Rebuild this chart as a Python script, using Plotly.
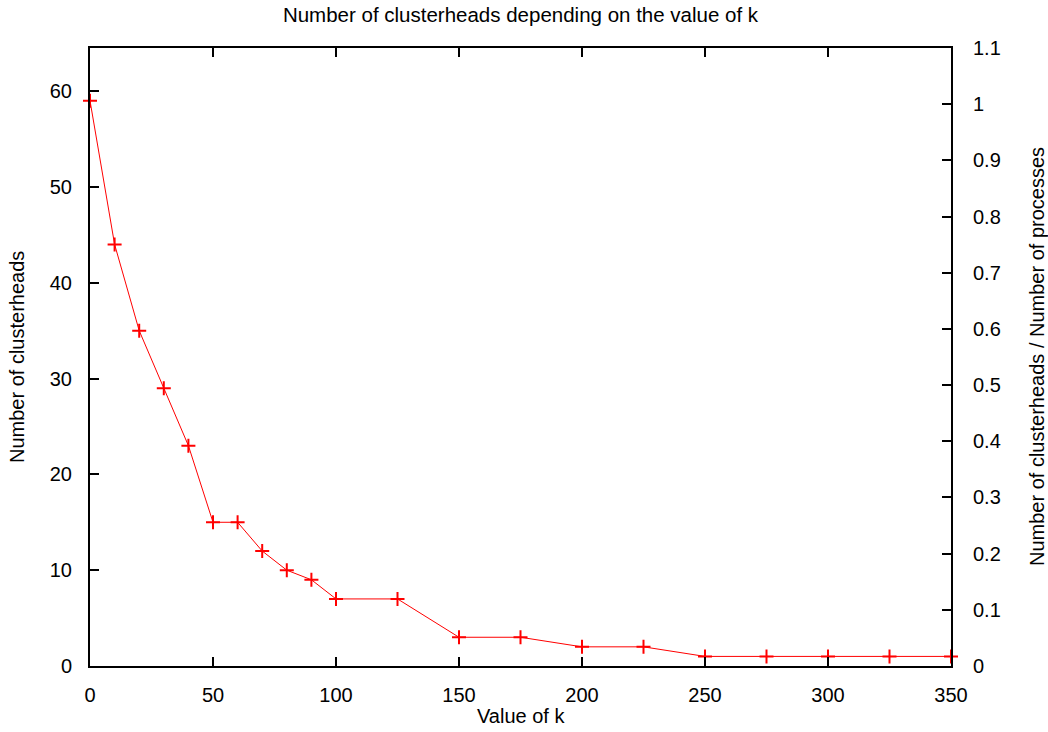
import plotly.graph_objects as go

# Clusterhead count for each value of k
k_values = [0, 10, 20, 30, 40, 50, 60, 70, 80, 90, 100, 125, 150, 175, 200,
            225, 250, 275, 300, 325, 350]
clusterheads = [59, 44, 35, 29, 23, 15, 15, 12, 10, 9, 7, 7, 3, 3, 2,
                2, 1, 1, 1, 1, 1]

x_ticks = [0, 50, 100, 150, 200, 250, 300, 350]
y_ticks = [0, 10, 20, 30, 40, 50, 60]
y2_ticks = [0, 0.1, 0.2, 0.3, 0.4, 0.5, 0.6, 0.7, 0.8, 0.9, 1, 1.1]

FONT = "Liberation Sans, Arial, Helvetica, sans-serif"
RED = "#ff0000"

W, H = 1048, 732
ML, MR, MT, MB = 90, 97, 48, 66
PW, PH = W - ML - MR, H - MT - MB

fig = go.Figure()
fig.add_trace(go.Scatter(
    x=k_values, y=clusterheads,
    mode="lines+markers",
    line=dict(color=RED, width=1),
    marker=dict(symbol="cross-thin", size=10, color=RED,
                line=dict(color=RED, width=2)),
    cliponaxis=False,
    showlegend=False,
))
# empty trace so the right-hand ratio axis gets drawn
fig.add_trace(go.Scatter(x=[], y=[], yaxis="y2", showlegend=False,
                         hoverinfo="skip"))

axis_common = dict(
    showgrid=False, zeroline=False,
    showline=True, linecolor="black", linewidth=2,
    ticks="inside", ticklen=9, tickwidth=1.5, tickcolor="black",
    tickfont=dict(family=FONT, size=20, color="black"),
)

TITLE_SIZE = 20

fig.update_layout(
    width=W, height=H,
    margin=dict(l=ML, r=MR, t=MT, b=MB),
    paper_bgcolor="white", plot_bgcolor="white",
    font=dict(family=FONT, size=20, color="black"),
    title=dict(text="Number of clusterheads depending on the value of k",
               x=(ML + PW / 2) / W, xanchor="center",
               y=1 - 15 / H, yanchor="middle",
               font=dict(family=FONT, size=20.5, color="black")),
    xaxis=dict(range=[0, 350], tickvals=x_ticks, mirror="ticks",
               ticklabelstandoff=10, **axis_common),
    yaxis=dict(range=[0, 64.5], tickvals=y_ticks, mirror=True,
               ticklabelstandoff=12, **axis_common),
    yaxis2=dict(range=[0, 1.1], tickvals=y2_ticks, overlaying="y",
                side="right", ticklabelstandoff=16, **axis_common),
    annotations=[
        dict(text="Value of k", xref="paper", yref="paper",
             x=0.5, y=-(716 - (H - MB)) / PH,
             showarrow=False, xanchor="center", yanchor="middle",
             font=dict(family=FONT, size=TITLE_SIZE)),
        dict(text="Number of clusterheads", xref="paper", yref="paper",
             x=(17 - ML) / PW, y=0.5, textangle=-90,
             showarrow=False, xanchor="center", yanchor="middle",
             font=dict(family=FONT, size=TITLE_SIZE)),
        dict(text="Number of clusterheads / Number of processes",
             xref="paper", yref="paper",
             x=(1037 - ML) / PW, y=0.5, textangle=-90,
             showarrow=False, xanchor="center", yanchor="middle",
             font=dict(family=FONT, size=TITLE_SIZE)),
    ],
)

fig.write_html("out.html")
